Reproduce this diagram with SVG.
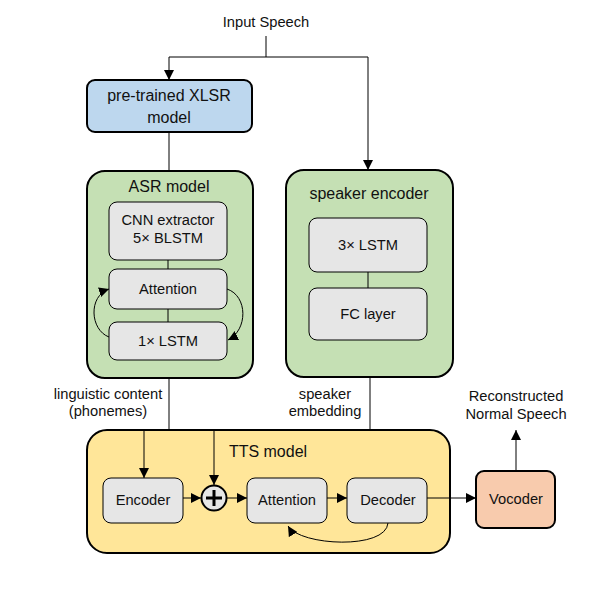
<svg xmlns="http://www.w3.org/2000/svg" width="606" height="589" viewBox="0 0 606 589">
<defs>
<marker id="ah" viewBox="0 0 10 10" refX="10" refY="5" markerWidth="10" markerHeight="10" markerUnits="userSpaceOnUse" orient="auto">
<path d="M0,0 L10,5 L0,10 z" fill="#000"/>
</marker>
</defs>
<style>
text{font-family:"Liberation Sans",Arial,sans-serif;font-size:14.7px;fill:#111;text-anchor:middle}
.title{font-size:16px}
.outer{stroke:#000;stroke-width:2}
.inner{fill:#e6e6e6;stroke:#000;stroke-width:1}
.ln{fill:none;stroke:#000;stroke-width:1}
.arr{fill:none;stroke:#000;stroke-width:1;marker-end:url(#ah)}
</style>
<rect width="606" height="589" fill="#fff"/>
<g id="input-speech"><text x="266" y="27" font-size="14">Input Speech</text></g>
<g id="xlsr">
<rect class="outer" x="87" y="80" width="165" height="52" rx="8" fill="#bdd7ee"/>
<text class="title" x="169" y="101">pre-trained XLSR</text>
<text class="title" x="169" y="123">model</text>
</g>
<g id="asr">
<rect class="outer" x="87" y="171" width="166" height="207" rx="18" fill="#c5e0b4"/>
<text class="title" x="169" y="192">ASR model</text>
<g id="cnn"><rect class="inner" x="109" y="202" width="118" height="58" rx="8"/>
<text x="168" y="225" font-size="15">CNN extractor</text><text x="168" y="243" font-size="15">5× BLSTM</text></g>
<g id="asr-attention"><rect class="inner" x="109" y="269" width="118" height="40" rx="8"/>
<text x="168" y="294" font-size="14">Attention</text></g>
<g id="lstm1"><rect class="inner" x="109" y="322" width="118" height="38" rx="8"/>
<text x="168" y="346">1× LSTM</text></g>
</g>
<g id="speaker-encoder">
<rect class="outer" x="286" y="170" width="167" height="207" rx="18" fill="#c5e0b4"/>
<text class="title" x="369" y="199">speaker encoder</text>
<g id="lstm3"><rect class="inner" x="309" y="218" width="118" height="54" rx="8"/>
<text x="368" y="250" font-size="15.5">3× LSTM</text></g>
<g id="fc"><rect class="inner" x="309" y="288" width="118" height="52" rx="8"/>
<text x="368" y="319" font-size="15">FC layer</text></g>
</g>
<g id="labels">
<text x="108" y="399">linguistic content</text>
<text x="108" y="416">(phonemes)</text>
<text x="325" y="399">speaker</text>
<text x="325" y="416">embedding</text>
<text x="516" y="401">Reconstructed</text>
<text x="516" y="419">Normal Speech</text>
</g>
<g id="tts">
<rect class="outer" x="87" y="430" width="363" height="123" rx="20" fill="#ffe699"/>
<text class="title" x="268" y="457">TTS model</text>
<g id="encoder"><rect class="inner" x="103" y="478" width="80" height="45" rx="8"/>
<text x="143" y="505" font-size="14">Encoder</text></g>
<g id="plus"><circle cx="214" cy="498" r="12.5" fill="#e6e6e6" stroke="#000" stroke-width="2"/>
<path d="M206,498 H222 M214,490 V506" stroke="#000" stroke-width="3"/></g>
<g id="tts-attention"><rect class="inner" x="247" y="478" width="80" height="45" rx="8"/>
<text x="287" y="505" font-size="14">Attention</text></g>
<g id="decoder"><rect class="inner" x="347" y="478" width="80" height="45" rx="8"/>
<text x="388" y="505" font-size="14">Decoder</text></g>
</g>
<g id="vocoder">
<rect class="outer" x="476" y="471" width="79" height="57" rx="8" fill="#f8cbad"/>
<text x="516" y="504" font-size="15">Vocoder</text>
</g>
<g id="connectors">
<path class="ln" d="M266,36 V57 H169"/>
<path class="arr" d="M169,57 V80"/>
<path class="arr" d="M266,57 H368 V170"/>
<path class="ln" d="M169,133 V170"/>
<path class="ln" d="M169,379 V429"/>
<path class="ln" d="M370,378 V429"/>
<path class="ln" d="M168,260 V269"/>
<path class="ln" d="M168,309 V322"/>
<path class="ln" d="M368,272 V288"/>
<path class="arr" d="M109,337 C90,330 88,296 109,289"/>
<path class="arr" d="M227,289 C248,296 248,330 228,340"/>
<path class="arr" d="M144,431 V478"/>
<path class="arr" d="M214,431 V485"/>
<path class="arr" d="M183,498 H201"/>
<path class="arr" d="M227,498 H247"/>
<path class="arr" d="M327,498 H347"/>
<path class="arr" d="M427,498 H476"/>
<path class="arr" d="M516,470 V430"/>
<path class="arr" d="M388,523 C386,550 300,546 288,526"/>
</g>
</svg>
